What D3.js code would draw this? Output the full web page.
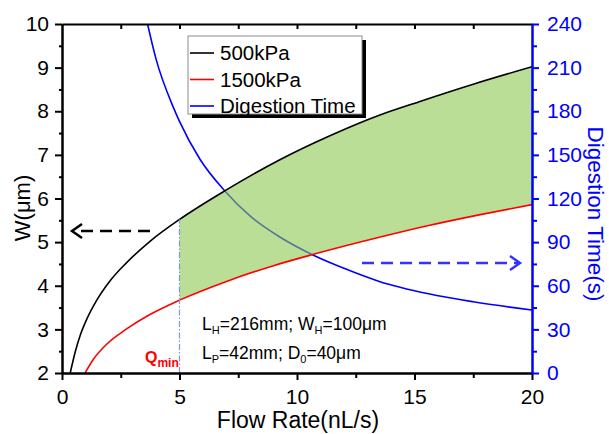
<!DOCTYPE html>
<html>
<head>
<meta charset="utf-8">
<script src="https://cdn.jsdelivr.net/npm/d3@7"></script>
<style>
body { margin: 0; background: #fff; }
text { font-family: "Liberation Sans", Arial, sans-serif; }
</style>
</head>
<body>
<div id="vis"></div>
<script>
// values
const flow500 = [0.35, 0.57, 0.78, 1.06, 1.48, 2.04, 2.75, 3.77, 5.0, 6.94, 9.27, 11.4, 13.5, 15.2, 17.5, 20];
const width500 = [2.0, 2.50, 2.87, 3.24, 3.67, 4.11, 4.53, 5.03, 5.52, 6.18, 6.89, 7.44, 7.91, 8.22, 8.62, 9.02];
const flow1500 = [0.98, 1.33, 1.9, 2.75, 3.74, 5.0, 7.0, 9.0, 10.7, 13.5, 15.6, 17.8, 20];
const width1500 = [2.0, 2.31, 2.66, 3.01, 3.34, 3.67, 4.10, 4.46, 4.72, 5.11, 5.38, 5.63, 5.86];
const flowTime = [3.64, 4.0, 4.73, 5.0, 5.87, 6.94, 8.0, 9.27, 10.7, 12.0, 13.5, 15.6, 17.5, 20];
const digestTime = [240, 216, 183, 173, 147, 125, 108, 93.5, 81, 72, 63, 54.5, 49, 43.3];
const qMin = 5;
const qMax = 20;

const xTicks = [0, 5, 10, 15, 20];
const xMinor = [2.5, 7.5, 12.5, 17.5];
const yTicks = [2, 3, 4, 5, 6, 7, 8, 9, 10];
const yMinor = [2.5, 3.5, 4.5, 5.5, 6.5, 7.5, 8.5, 9.5];
const y2Ticks = [0, 30, 60, 90, 120, 150, 180, 210, 240];
const y2Minor = [15, 45, 75, 105, 135, 165, 195, 225];

const legendLabels = ["500kPa", "1500kPa", "Digestion Time"];
const legendColors = ["black", "red", "blue"];

const WIDTH = 609, HEIGHT = 434;
const MARGINS = { left: 62, right: 77, top: 24, bottom: 61 };
const BLUE = "#0000ff";

const svg = d3.select("#vis")
    .append("svg")
    .attr("width", WIDTH)
    .attr("height", HEIGHT);

const x = d3.scaleLinear().domain([0, 20]).range([MARGINS.left, WIDTH - MARGINS.right]);
const y = d3.scaleLinear().domain([2, 10]).range([HEIGHT - MARGINS.bottom, MARGINS.top]);
const y2 = d3.scaleLinear().domain([0, 240]).range([HEIGHT - MARGINS.bottom, MARGINS.top]);

const d500 = flow500.map((q, i) => ({ q: q, v: width500[i] }));
const d1500 = flow1500.map((q, i) => ({ q: q, v: width1500[i] }));
const dTime = flowTime.map((q, i) => ({ q: q, v: digestTime[i] }));

const CURVE = d3.curveMonotoneX;

const defs = svg.append("defs");
defs.append("clipPath").attr("id", "plot")
    .append("rect")
    .attr("x", x(0)).attr("y", y(10))
    .attr("width", x(20) - x(0)).attr("height", y(2) - y(10));
defs.append("clipPath").attr("id", "qrange")
    .append("rect")
    .attr("x", x(qMin)).attr("y", y(10))
    .attr("width", x(qMax) - x(qMin)).attr("height", y(2) - y(10));
defs.append("clipPath").attr("id", "underBlack")
    .append("path")
    .attr("d", d3.area().curve(CURVE)
        .x(d => x(d.q)).y0(y(2)).y1(d => y(d.v))(d500));

const lineW = d3.line().curve(CURVE).x(d => x(d.q)).y(d => y(d.v));
const lineT = d3.line().curve(CURVE).x(d => x(d.q)).y(d => y2(d.v));

// digestion time curve (under the shaded band)
svg.append("path")
    .attr("clip-path", "url(#plot)")
    .attr("d", lineT(dTime))
    .attr("fill", "none")
    .attr("stroke", BLUE)
    .attr("stroke-width", 1.6);

// shaded operating window between the two pressures
svg.append("g")
    .attr("clip-path", "url(#qrange)")
    .append("path")
    .attr("clip-path", "url(#underBlack)")
    .attr("d", d3.area().curve(CURVE)
        .x(d => x(d.q)).y0(y(10)).y1(d => y(d.v))(d1500))
    .attr("fill", "#8cc850")
    .attr("fill-opacity", 0.6);

svg.append("path")
    .attr("clip-path", "url(#plot)")
    .attr("d", lineW(d500))
    .attr("fill", "none")
    .attr("stroke", "black")
    .attr("stroke-width", 1.6);

svg.append("path")
    .attr("clip-path", "url(#plot)")
    .attr("d", lineW(d1500))
    .attr("fill", "none")
    .attr("stroke", "red")
    .attr("stroke-width", 1.6);

// Q_min marker line
svg.append("line")
    .attr("x1", x(qMin)).attr("x2", x(qMin))
    .attr("y1", y(2)).attr("y2", y(width500[flow500.indexOf(qMin)]))
    .attr("stroke", "#7a9cd6")
    .attr("stroke-width", 1.2)
    .attr("stroke-dasharray", "6,2,1.5,2");

// axes
function styleAxis(g, color, fontSize) {
    g.select(".domain").attr("stroke", color).attr("stroke-width", 2);
    g.selectAll(".tick line").attr("stroke", color).attr("stroke-width", 2);
    g.selectAll(".tick text").attr("fill", color).attr("font-size", fontSize)
        .attr("font-family", "'Liberation Sans', Arial, sans-serif");
}

svg.append("g")
    .attr("transform", "translate(0," + y(2) + ")")
    .call(d3.axisBottom(x).tickValues(xMinor).tickSize(5).tickSizeOuter(0).tickFormat(""))
    .call(g => styleAxis(g, "black", 20));
svg.append("g")
    .attr("transform", "translate(0," + y(2) + ")")
    .call(d3.axisBottom(x).tickValues(xTicks).tickSize(7).tickPadding(9).tickSizeOuter(0))
    .call(g => styleAxis(g, "black", 21));

svg.append("g")
    .attr("transform", "translate(0," + y(10) + ")")
    .call(d3.axisTop(x).tickValues(xMinor.concat([5, 10, 15])).tickSize(-5).tickSizeOuter(0).tickFormat(""))
    .call(g => styleAxis(g, "black", 20));

svg.append("g")
    .attr("transform", "translate(" + x(0) + ",0)")
    .call(d3.axisLeft(y).tickValues(yMinor).tickSize(3).tickSizeOuter(0).tickFormat(""))
    .call(g => styleAxis(g, "black", 20));
svg.append("g")
    .attr("transform", "translate(" + x(0) + ",0)")
    .call(d3.axisLeft(y).tickValues(yTicks).tickSize(7).tickPadding(6).tickSizeOuter(0))
    .call(g => styleAxis(g, "black", 21));

svg.append("g")
    .attr("transform", "translate(" + x(20) + ",0)")
    .call(d3.axisRight(y2).tickValues(y2Minor).tickSize(5).tickSizeOuter(0).tickFormat(""))
    .call(g => styleAxis(g, BLUE, 20));
svg.append("g")
    .attr("transform", "translate(" + x(20) + ",0)")
    .call(d3.axisRight(y2).tickValues(y2Ticks).tickSize(7).tickPadding(8).tickSizeOuter(0))
    .call(g => styleAxis(g, BLUE, 21));

// axis titles
svg.append("text")
    .attr("x", 298)
    .attr("y", 428)
    .attr("text-anchor", "middle")
    .attr("font-size", 23)
    .text("Flow Rate(nL/s)");

svg.append("text")
    .attr("transform", "translate(30," + 208 + ") rotate(-90)")
    .attr("text-anchor", "middle")
    .attr("font-size", 22)
    .text("W(μm)");

svg.append("text")
    .attr("transform", "translate(588," + 214 + ") rotate(90)")
    .attr("text-anchor", "middle")
    .attr("font-size", 22.5)
    .attr("fill", BLUE)
    .text("Digestion Time(s)");

// legend
const LEG = { x: 188, y: 36, w: 174, h: 78 };
svg.append("rect")
    .attr("x", LEG.x + 4).attr("y", LEG.y + 4)
    .attr("width", LEG.w).attr("height", LEG.h)
    .attr("fill", "black");
svg.append("rect")
    .attr("x", LEG.x).attr("y", LEG.y)
    .attr("width", LEG.w).attr("height", LEG.h)
    .attr("fill", "white")
    .attr("stroke", "#8c8c8c")
    .attr("stroke-width", 1);

const legendRows = svg.selectAll(".legend-row")
    .data(legendLabels)
    .enter()
    .append("g")
    .attr("class", "legend-row")
    .attr("transform", (d, i) => "translate(" + LEG.x + "," + (LEG.y + 17 + i * 26.5) + ")");

legendRows.append("line")
    .attr("x1", 2).attr("x2", 26)
    .attr("stroke", (d, i) => legendColors[i])
    .attr("stroke-width", 1.6);

legendRows.append("text")
    .attr("x", 32)
    .attr("y", 7)
    .attr("font-size", 20.5)
    .text(d => d);

// direction arrows
function arrow(x1, x2, yy, color) {
    const dir = x2 > x1 ? 1 : -1;
    svg.append("line")
        .attr("x1", x1).attr("x2", x2 - dir * 2)
        .attr("y1", yy).attr("y2", yy)
        .attr("stroke", color)
        .attr("stroke-width", 2.5)
        .attr("stroke-dasharray", "12,7");
    svg.append("path")
        .attr("d", "M" + (x2 - dir * 10) + "," + (yy - 7) + "L" + x2 + "," + yy + "L" + (x2 - dir * 10) + "," + (yy + 7))
        .attr("fill", "none")
        .attr("stroke", color)
        .attr("stroke-width", 2.5);
}
arrow(150, 72, 231, "black");
arrow(362, 520, 263, "#3333ff");

// parameters note
const note1 = svg.append("text").attr("x", 202).attr("y", 330).attr("font-size", 17.5);
note1.append("tspan").text("L");
note1.append("tspan").attr("dy", 4).attr("font-size", 11).text("H");
note1.append("tspan").attr("dy", -4).text("=216mm; W");
note1.append("tspan").attr("dy", 4).attr("font-size", 11).text("H");
note1.append("tspan").attr("dy", -4).text("=100μm");

const note2 = svg.append("text").attr("x", 202).attr("y", 359).attr("font-size", 17.5);
note2.append("tspan").text("L");
note2.append("tspan").attr("dy", 4).attr("font-size", 11).text("P");
note2.append("tspan").attr("dy", -4).text("=42mm; D");
note2.append("tspan").attr("dy", 4).attr("font-size", 11).text("0");
note2.append("tspan").attr("dy", -4).text("=40μm");

const qLabel = svg.append("text").attr("x", 145).attr("y", 363)
    .attr("fill", "red").attr("font-weight", "bold").attr("font-size", 16);
qLabel.append("tspan").text("Q");
qLabel.append("tspan").attr("dy", 4).attr("font-size", 12).text("min");
</script>
</body>
</html>
